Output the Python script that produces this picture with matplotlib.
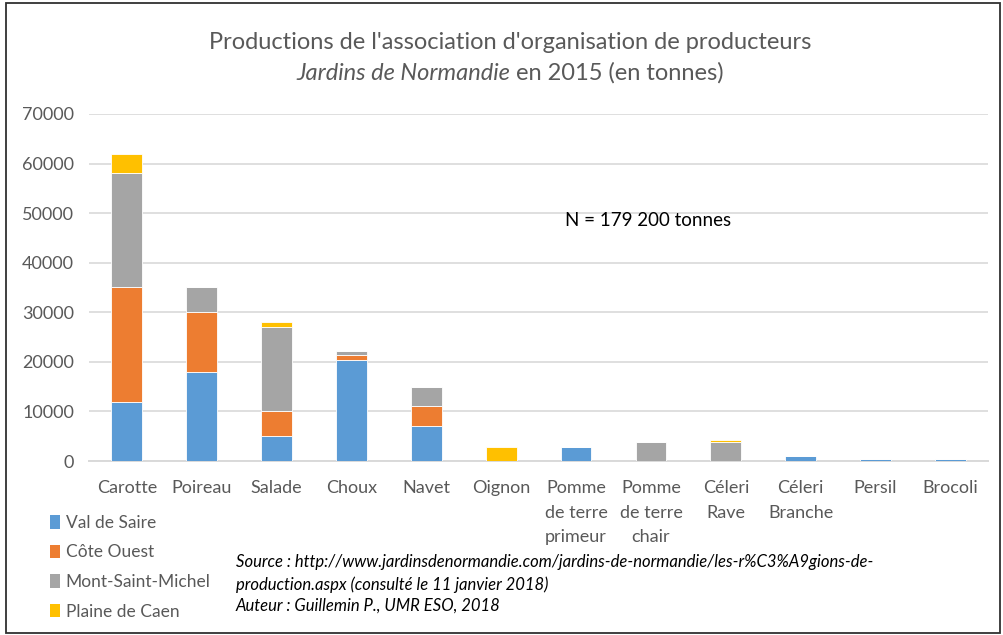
import matplotlib
matplotlib.use("Agg")
import matplotlib.pyplot as plt
from matplotlib.patches import Patch, Rectangle
import numpy as np

plt.rcParams['font.family'] = ['Lato', 'DejaVu Sans']

categories = ["Carotte", "Poireau", "Salade", "Choux", "Navet", "Oignon",
              "Pomme\nde terre\nprimeur", "Pomme\nde terre\nchair",
              "Céleri\nRave", "Céleri\nBranche", "Persil", "Brocoli"]
series_names = ["Val de Saire", "Côte Ouest", "Mont-Saint-Michel", "Plaine de Caen"]
val_de_saire = [12000, 18000, 5000, 20300, 7000, 0, 2800, 0, 0, 1000, 450, 450]
cote_ouest = [23000, 12000, 5000, 1100, 4000, 0, 0, 0, 0, 0, 0, 0]
mont_st_michel = [23000, 5000, 17000, 800, 4000, 0, 0, 3900, 3900, 0, 0, 0]
plaine_de_caen = [3900, 0, 1000, 0, 0, 2800, 0, 0, 400, 0, 0, 0]
colors = ["#5B9BD5", "#ED7D31", "#A5A5A5", "#FFC000"]
yticks = [0, 10000, 20000, 30000, 40000, 50000, 60000, 70000]

fig = plt.figure(figsize=(10.04, 6.35), dpi=100)
ax = fig.add_axes([0.089, 0.274, 0.895, 0.5465])

x = np.arange(len(categories))
bottom = np.zeros(len(categories))
for vals, c, name in zip([val_de_saire, cote_ouest, mont_st_michel, plaine_de_caen], colors, series_names):
    v = np.array(vals, dtype=float)
    ax.bar(x, v, bottom=bottom, width=0.41, color=c, edgecolor='white', linewidth=0.6, zorder=3, label=name)
    bottom += v

ax.set_xlim(-0.5, len(categories) - 0.5)
ax.set_ylim(0, 70000)
ax.set_yticks(yticks)
ax.set_yticklabels([str(t) for t in yticks])
ax.set_xticks(x)
ax.set_xticklabels(categories, linespacing=1.62, va='top')
ax.tick_params(axis='both', length=0, colors='#595959', labelsize=13)
ax.tick_params(axis='y', pad=11)
ax.tick_params(axis='x', pad=14)
ax.grid(axis='y', color='#D9D9D9', linewidth=1.2, zorder=0)
for s in ['top', 'right', 'left']:
    ax.spines[s].set_visible(False)
ax.spines['bottom'].set_color('#D9D9D9')
ax.spines['bottom'].set_linewidth(1.4)

fig.text(0.508, 0.933, "Productions de l'association d'organisation de producteurs",
         ha='center', va='center', fontsize=17, color='#595959')
t1 = fig.text(0.0, 0.885, "Jardins de Normandie", ha='left', va='center', fontsize=17,
              color='#595959', style='italic')
t2 = fig.text(0.0, 0.885, " en 2015 (en tonnes)", ha='left', va='center', fontsize=17,
              color='#595959')
fig.canvas.draw()
r = fig.canvas.get_renderer()
w1 = t1.get_window_extent(r).width
w2 = t2.get_window_extent(r).width
W = fig.bbox.width
start = 0.508 * W - (w1 + w2) / 2
t1.set_x(start / W)
t2.set_x((start + w1) / W)

fig.text(0.563, 0.652, "N = 179 200 tonnes", ha='left', va='center', fontsize=13.5, color='black')

handles = [Patch(facecolor=c, edgecolor='none') for c in colors]
leg = fig.legend(handles, series_names, loc='upper left', bbox_to_anchor=(0.043, 0.200),
                 frameon=False, fontsize=12.5, labelspacing=0.78, handlelength=0.55,
                 handleheight=0.8, handletextpad=0.35, borderaxespad=0)
for t in leg.get_texts():
    t.set_color('#595959')

src = ("Source : http://www.jardinsdenormandie.com/jardins-de-normandie/les-r%C3%A9gions-de-\n"
       "production.aspx (consulté le 11 janvier 2018)\n"
       "Auteur : Guillemin P., UMR ESO, 2018")
fig.text(0.235, 0.080, src, ha='left', va='center', fontsize=12, style='italic',
         color='black', linespacing=1.42)

fig.patches.append(Rectangle((0.006, 0.003), 0.990, 0.992, transform=fig.transFigure,
                             fill=False, edgecolor='#303030', linewidth=1.3))

fig.savefig("out.png", dpi=100)
